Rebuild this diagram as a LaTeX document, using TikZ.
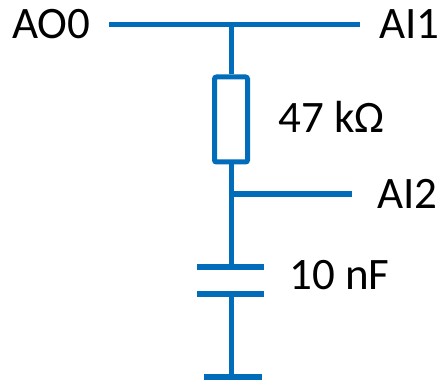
\documentclass[tikz,border=0pt]{standalone}
\usepackage{fontspec}
\setmainfont{Carlito}
\definecolor{wireblue}{RGB}{0,108,186}
\tikzset{
  wire/.style={draw=wireblue, line width=5pt},
  plate/.style={draw=wireblue, line width=6pt},
  lbl/.style={inner sep=0pt, anchor=base west, font=\fontsize{45}{45}\selectfont},
  resbox/.style={draw=wireblue, line width=5pt, rounded corners=2pt, minimum width=33pt, minimum height=85pt, inner sep=0pt}
}
\begin{document}
\begin{tikzpicture}[x=1pt, y=-1pt]
            \useasboundingbox (0,0) rectangle (444,382);

            % Labels
            \node [lbl] (ao0) at (12,39) {AO0};
            \node [lbl] (ai1) at (379,39) {AI1};
            \node [lbl] (rval) at (278,133) {47 k\symbol{"03A9}};
            \node [lbl] (ai2) at (377,208) {AI2};
            \node [lbl] (cval) at (289,289) {10 nF};

            % Wire points
            \coordinate (inL) at (109,25);
            \coordinate (inR) at (360,25);
            \coordinate (top) at (231,25);
            \coordinate (mid) at (231,194);
            \coordinate (outR) at (352,194);
            \coordinate (capA) at (231,266.5);
            \coordinate (capB) at (231,293.5);
            \coordinate (gnd) at (231,377);

            % Resistor
            \node [resbox] (res) at (231,119.5) {};

            % Drawing top wire and branch to AI2
            \draw [wire] (inL) -- (inR);
            \draw [wire] (top) -- (res.north);
            \draw [wire] (res.south) -- (mid) -- (capA);
            \draw [wire] (mid) -- (outR);

            % Drawing capacitor plates
            \draw [plate] ([xshift=-34pt]capA) -- ([xshift=33pt]capA);
            \draw [plate] ([xshift=-34pt]capB) -- ([xshift=33pt]capB);

            % Drawing lead to ground bar
            \draw [wire] (capB) -- (gnd);
            \draw [plate] ([xshift=-27pt]gnd) -- ([xshift=31pt]gnd);
        \end{tikzpicture}
\end{document}
